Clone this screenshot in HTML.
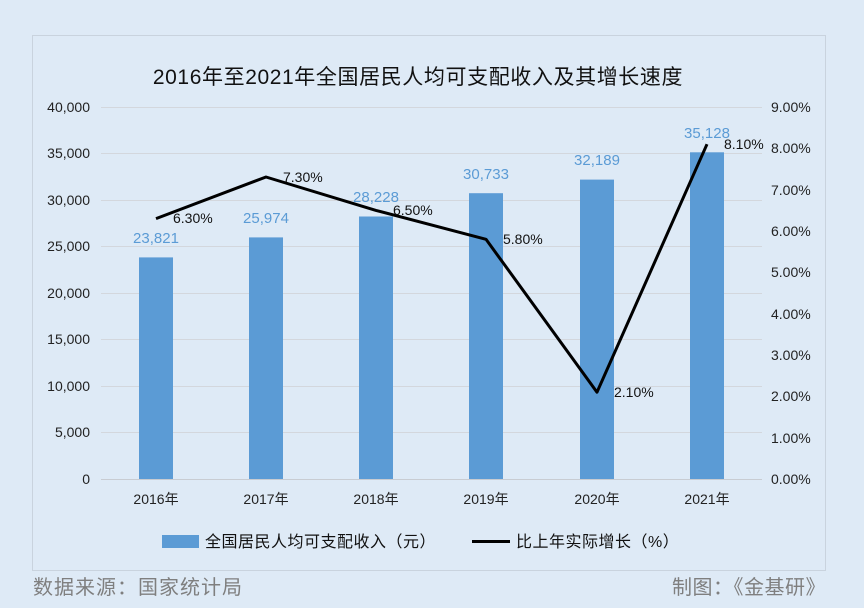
<!DOCTYPE html>
<html><head><meta charset="utf-8"><style>
body{margin:0;width:864px;height:608px;background:#deeaf6;overflow:hidden;font-family:"Liberation Sans","Noto Sans CJK SC",sans-serif;}
</style></head><body>
<svg width="864" height="608" xmlns="http://www.w3.org/2000/svg" style="position:absolute;left:0;top:0">
<rect x="32.5" y="35.5" width="793" height="535" fill="#deeaf6" stroke="#c9d3de"/>
<text x="418" y="84" text-anchor="middle" font-size="21" letter-spacing="0.6" fill="#111" font-family="Liberation Sans, Noto Sans CJK SC, sans-serif">2016年至2021年全国居民人均可支配收入及其增长速度</text>
<g stroke="#d3d7dd" stroke-width="1">
<line x1="101" x2="762" y1="107.5" y2="107.5"/><line x1="101" x2="762" y1="153.5" y2="153.5"/>
<line x1="101" x2="762" y1="200.5" y2="200.5"/><line x1="101" x2="762" y1="246.5" y2="246.5"/>
<line x1="101" x2="762" y1="293.5" y2="293.5"/><line x1="101" x2="762" y1="339.5" y2="339.5"/>
<line x1="101" x2="762" y1="386.5" y2="386.5"/><line x1="101" x2="762" y1="432.5" y2="432.5"/>
<line x1="101" x2="762" y1="479.5" y2="479.5" stroke="#c8ccd2"/>
</g>
<g font-size="14" fill="#222" text-anchor="end">
<text x="90" y="112">40,000</text><text x="90" y="158">35,000</text><text x="90" y="205">30,000</text>
<text x="90" y="251">25,000</text><text x="90" y="298">20,000</text><text x="90" y="344">15,000</text>
<text x="90" y="391">10,000</text><text x="90" y="437">5,000</text><text x="90" y="484">0</text>
</g>
<g font-size="14" fill="#222" text-anchor="start">
<text x="771" y="112">9.00%</text><text x="771" y="153">8.00%</text><text x="771" y="195">7.00%</text>
<text x="771" y="236">6.00%</text><text x="771" y="277">5.00%</text><text x="771" y="319">4.00%</text>
<text x="771" y="360">3.00%</text><text x="771" y="401">2.00%</text><text x="771" y="443">1.00%</text>
<text x="771" y="484">0.00%</text>
</g>
<g fill="#5b9bd5">
<rect x="139" y="257.4" width="34" height="221.6"/>
<rect x="249" y="237.4" width="34" height="241.6"/>
<rect x="359" y="216.5" width="34" height="262.5"/>
<rect x="469" y="193.2" width="34" height="285.8"/>
<rect x="580" y="179.6" width="34" height="299.4"/>
<rect x="690" y="152.3" width="34" height="326.7"/>
</g>
<g font-size="15" fill="#5b9bd5" text-anchor="middle">
<text x="156" y="243">23,821</text><text x="266" y="223">25,974</text><text x="376" y="202">28,228</text>
<text x="486" y="179">30,733</text><text x="597" y="165">32,189</text><text x="707" y="138">35,128</text>
</g>
<polyline points="156,218.6 266,177 376,210.4 486,239.3 597,392.2 707,144.2" fill="none" stroke="#000" stroke-width="3" stroke-linejoin="round"/>
<g font-size="14" fill="#111">
<text x="173" y="223">6.30%</text><text x="283" y="182">7.30%</text><text x="393" y="215">6.50%</text>
<text x="503" y="244">5.80%</text><text x="614" y="397">2.10%</text><text x="724" y="149">8.10%</text>
</g>
<g font-size="14" fill="#222" text-anchor="middle">
<text x="156" y="504">2016年</text><text x="266" y="504">2017年</text><text x="376" y="504">2018年</text>
<text x="486" y="504">2019年</text><text x="597" y="504">2020年</text><text x="707" y="504">2021年</text>
</g>
<rect x="162" y="535" width="37" height="13" fill="#5b9bd5"/>
<text x="205" y="547" font-size="16" letter-spacing="0.5" fill="#111">全国居民人均可支配收入（元）</text>
<line x1="472" x2="510" y1="541.5" y2="541.5" stroke="#000" stroke-width="3"/>
<text x="516" y="547" font-size="16" letter-spacing="0.5" fill="#111">比上年实际增长（%）</text>
<text x="33" y="594" font-size="20" letter-spacing="1" fill="#7f7f7f">数据来源：国家统计局</text>
<text x="826" y="594" font-size="20" letter-spacing="0.5" fill="#7f7f7f" text-anchor="end">制图：《金基研》</text>
</svg>
</body></html>
